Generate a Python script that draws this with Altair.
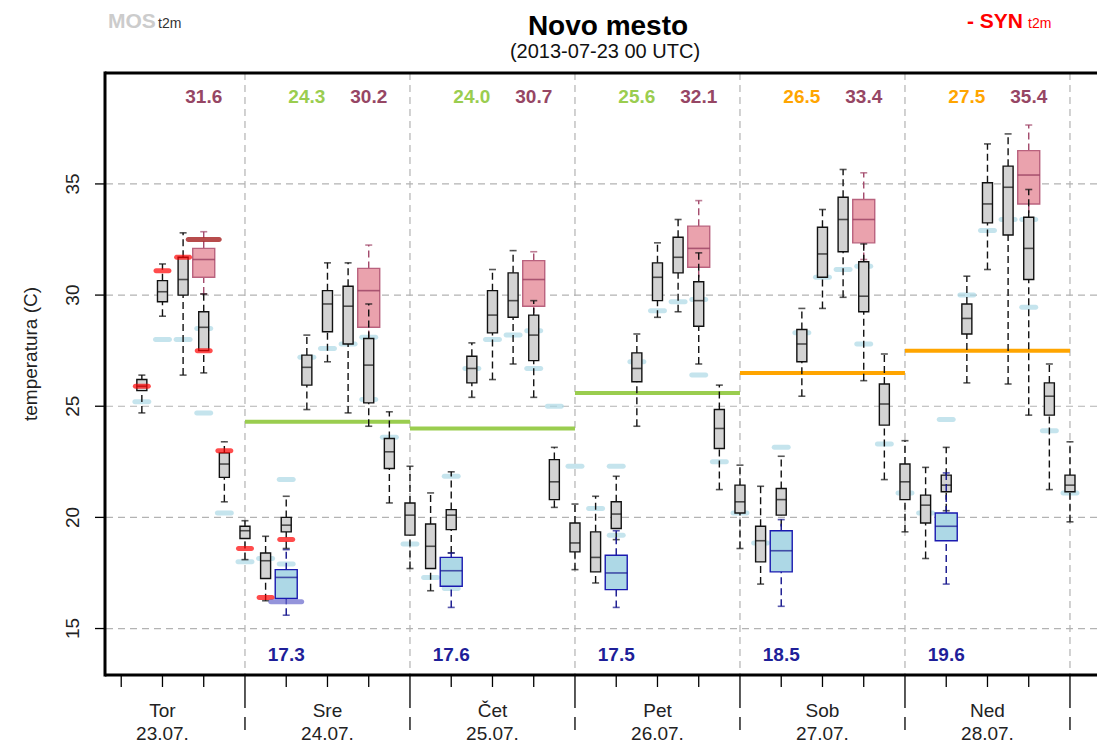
import altair as alt
import pandas as pd

# ---------------- data ----------------
gray_hours = [9, 12, 15, 18, 21, 24, 27, 30, 33, 36, 39, 42, 45, 48, 51, 54, 57, 60, 63, 66, 69, 72, 75, 78,
              81, 84, 87, 90, 93, 96, 99, 102, 105, 108, 111, 114, 117, 120, 123, 126, 129, 132, 135, 138, 141, 144]
gray_lo = [24.7, 29.05, 26.4, 26.5, 20.7, 18.1, 16.25, 18.6, 24.85, 27.0, 24.7, 24.1, 20.65, 17.7, 16.7, 18.4,
           25.4, 26.2, 26.9, 25.4, 20.45, 17.65, 17.05, 19.0, 24.1, 29.0, 29.25, 26.9, 21.25, 18.6, 17.0, 19.1,
           25.45, 29.4, 29.9, 26.15, 21.7, 19.35, 18.15, 20.3, 26.05, 31.15, 26.0, 24.6, 21.25, 19.8]
gray_q1 = [25.7, 29.7, 30.0, 27.5, 21.8, 19.05, 17.25, 19.35, 25.95, 28.35, 27.8, 25.15, 22.2, 19.2, 17.7, 19.45,
           26.05, 28.3, 29.0, 27.05, 20.8, 18.45, 17.55, 19.5, 26.1, 29.75, 31.0, 28.6, 23.1, 20.2, 18.0, 20.1,
           27.0, 30.8, 31.95, 29.25, 24.15, 20.8, 19.75, 21.15, 28.25, 33.25, 32.7, 30.7, 24.6, 21.15]
gray_med = [25.9, 30.15, 30.7, 28.55, 22.4, 19.4, 18.05, 19.65, 26.75, 29.6, 29.5, 26.85, 22.95, 20.1, 18.7, 20.1,
            26.7, 29.1, 29.75, 28.2, 21.6, 18.85, 18.2, 20.15, 26.7, 30.8, 31.7, 29.75, 24.0, 20.7, 18.95, 20.8,
            27.8, 31.85, 33.4, 29.95, 25.1, 21.6, 20.55, 21.45, 28.95, 34.1, 34.85, 32.1, 25.45, 21.45]
gray_q3 = [26.2, 30.65, 31.7, 29.25, 22.9, 19.6, 18.4, 20.0, 27.3, 30.2, 30.4, 28.05, 23.55, 20.65, 19.7, 20.35,
           27.25, 30.2, 31.0, 29.1, 22.6, 19.75, 19.35, 20.7, 27.4, 31.45, 32.6, 30.6, 24.85, 21.45, 19.6, 21.3,
           28.45, 33.05, 34.4, 31.5, 26.0, 22.4, 21.0, 21.9, 29.6, 35.05, 35.8, 33.5, 26.05, 21.9]
gray_hi = [26.4, 31.4, 32.8, 30.05, 23.4, 19.85, 19.15, 20.95, 28.2, 31.45, 31.45, 29.6, 24.75, 22.3, 21.1, 22.05,
           27.85, 31.15, 32.0, 29.75, 23.15, 20.6, 20.95, 21.85, 28.25, 32.35, 33.4, 31.9, 25.95, 22.35, 21.4, 22.75,
           29.4, 33.85, 35.65, 32.3, 27.35, 23.45, 22.25, 23.15, 30.85, 36.8, 37.25, 34.75, 26.9, 23.4]

tmax_hours = [18, 42, 66, 90, 114, 138]
tmax_lo = [30.05, 27.6, 28.7, 30.3, 31.6, 33.2]
tmax_q1 = [30.8, 28.55, 29.5, 31.25, 32.35, 34.1]
tmax_med = [31.6, 30.2, 30.7, 32.1, 33.4, 35.4]
tmax_q3 = [32.1, 31.2, 31.55, 33.1, 34.3, 36.5]
tmax_hi = [32.85, 32.25, 31.95, 34.25, 35.5, 37.65]

tmin_hours = [30, 54, 78, 102, 126]
tmin_lo = [15.6, 15.95, 15.95, 16.0, 17.0]
tmin_q1 = [16.35, 16.9, 16.75, 17.55, 18.95]
tmin_med = [17.3, 17.6, 17.5, 18.5, 19.6]
tmin_q3 = [17.65, 18.2, 18.3, 19.4, 20.2]
tmin_hi = [18.55, 18.4, 19.4, 19.9, 22.0]

mos_hours = [9, 12, 15, 18, 18, 21, 24, 27, 30, 30, 33, 36, 39, 42, 42, 45, 48, 51, 54, 54, 57, 60, 63, 66, 66,
             69, 72, 75, 78, 78, 81, 84, 87, 90, 90, 93, 96, 99, 102, 102, 105, 108, 111, 114, 114, 117, 120, 123,
             126, 126, 129, 132, 135, 138, 138, 141, 144]
mos_vals = [25.2, 28.0, 28.0, 28.5, 24.7, 20.2, 18.0, 18.15, 21.7, 17.9, 27.2, 27.6, 27.8, 28.1, 25.3, 23.6, 18.8,
            17.3, 21.85, 16.8, 26.7, 28.0, 28.2, 28.4, 26.7, 25.0, 22.3, 20.4, 22.3, 19.2, 27.0, 29.3, 29.7, 29.8,
            26.4, 22.5, 20.2, 18.85, 23.15, 18.4, 28.3, 30.8, 31.15, 31.3, 27.8, 23.3, 21.1, 20.2, 24.4, 20.1, 30.0,
            32.9, 33.4, 33.4, 29.45, 23.9, 21.1]

syn_hours = [9, 12, 15, 18, 21, 24, 27, 30]
syn_vals = [25.9, 31.1, 31.7, 27.5, 23.0, 18.6, 16.4, 19.0]
obs_tmax_hours = [18]
obs_tmax_vals = [32.5]
obs_tmin_hours = [30]
obs_tmin_vals = [16.2]

mean_start = [24, 48, 72, 96, 120]
mean_vals = [24.3, 24.0, 25.6, 26.5, 27.5]

grid_y = [15, 20, 25, 30, 35]
day_bounds = [24, 48, 72, 96, 120, 144]
tick_hours = [6, 12, 18, 24, 30, 36, 42, 48, 54, 60, 66, 72, 78, 84, 90, 96, 102, 108, 114, 120, 126, 132, 138, 144]
day_mid = [12, 36, 60, 84, 108, 132]
day_names = ["Tor", "Sre", "Čet", "Pet", "Sob", "Ned"]
day_dates = ["23.07.", "24.07.", "25.07.", "26.07.", "27.07.", "28.07."]

# ---------------- layout ----------------
W, H = 992, 602
X0, X1 = 3.64, 147.93
Y0, Y1 = 12.91, 39.99
PXH = W / (X1 - X0)
FONT = "Liberation Sans"

xs = alt.Scale(domain=[X0, X1], nice=False, zero=False)
ys = alt.Scale(domain=[Y0, Y1], nice=False, zero=False)


def X(f="h"):
    return alt.X(f"{f}:Q", scale=xs, axis=None)


def Y(f):
    return alt.Y(f"{f}:Q", scale=ys, axis=None)


def box_layers(df, box_px, fill, stroke, wcol, medcol):
    half = box_px / 2 / PXH
    base = alt.Chart(df)
    dash = [7, 4]
    w1 = base.mark_rule(color=wcol, strokeDash=dash, strokeWidth=1.4).encode(x=X(), y=Y("q3"), y2="hi")
    w2 = base.mark_rule(color=wcol, strokeDash=dash, strokeWidth=1.4).encode(x=X(), y=Y("lo"), y2="q1")
    c1 = base.mark_tick(orient="horizontal", size=7, thickness=1.6, color=wcol).encode(x=X(), y=Y("hi"))
    c2 = base.mark_tick(orient="horizontal", size=7, thickness=1.6, color=wcol).encode(x=X(), y=Y("lo"))
    box = base.transform_calculate(xa=f"datum.h - {half}", xb=f"datum.h + {half}").mark_rect(
        fill=fill, stroke=stroke, strokeWidth=1.4).encode(x=X("xa"), x2="xb", y=Y("q1"), y2="q3")
    med = base.mark_tick(orient="horizontal", size=box_px, thickness=1.6, color=medcol).encode(x=X(), y=Y("med"))
    return [w1, w2, c1, c2, box, med]


gray_df = pd.DataFrame({"h": gray_hours, "lo": gray_lo, "q1": gray_q1, "med": gray_med, "q3": gray_q3, "hi": gray_hi})
tmax_df = pd.DataFrame({"h": tmax_hours, "lo": tmax_lo, "q1": tmax_q1, "med": tmax_med, "q3": tmax_q3, "hi": tmax_hi})
tmin_df = pd.DataFrame({"h": tmin_hours, "lo": tmin_lo, "q1": tmin_q1, "med": tmin_med, "q3": tmin_q3, "hi": tmin_hi})
mos_df = pd.DataFrame({"h": mos_hours, "v": mos_vals})
syn_df = pd.DataFrame({"h": syn_hours, "v": syn_vals})
otx_df = pd.DataFrame({"h": obs_tmax_hours, "v": obs_tmax_vals})
otn_df = pd.DataFrame({"h": obs_tmin_hours, "v": obs_tmin_vals})
mean_df = pd.DataFrame({"start": mean_start, "mean": mean_vals})
grid_df = pd.DataFrame({"v": grid_y})
bound_df = pd.DataFrame({"h": day_bounds})
tick_df = pd.DataFrame({"h": tick_hours})
day_df = pd.DataFrame({"h": day_mid, "name": day_names, "date": day_dates})
one = pd.DataFrame({"k": [0]})

GRID = "#b3b3b3"
layers = []
layers.append(alt.Chart(grid_df).mark_rule(color=GRID, strokeDash=[7, 5], strokeWidth=1.2).encode(y=Y("v")))
layers.append(alt.Chart(bound_df).mark_rule(color=GRID, strokeDash=[7, 5], strokeWidth=1.2).encode(x=X()))

mean_color = alt.Color("mean:Q", scale=alt.Scale(type="threshold", domain=[26], range=["#9acd4f", "#ffa500"]),
                       legend=None)
layers.append(alt.Chart(mean_df).transform_calculate(end="datum.start + 24").mark_rule(
    strokeWidth=4).encode(x=X("start"), x2="end", y=Y("mean"), color=mean_color))

layers.append(alt.Chart(mos_df).mark_tick(orient="horizontal", size=19, thickness=5, cornerRadius=2.5,
                                          color="#add8e6").encode(x=X(), y=Y("v")))

layers += box_layers(tmax_df, 22, "#eaa2ad", "#b9627e", "#a3496b", "#8e3357")
layers += box_layers(gray_df, 10, "#d3d3d3", "#111111", "#111111", "#111111")
layers += box_layers(tmin_df, 22, "#add8e6", "#1a1ab0", "#12128c", "#12128c")

layers.append(alt.Chart(syn_df).mark_tick(orient="horizontal", size=18, thickness=5, cornerRadius=2.5,
                                          color="#ff0000").encode(x=X(), y=Y("v")))
layers.append(alt.Chart(otx_df).mark_tick(orient="horizontal", size=36, thickness=5, cornerRadius=2.5,
                                          color="#990000").encode(x=X(), y=Y("v")))
layers.append(alt.Chart(otn_df).mark_tick(orient="horizontal", size=36, thickness=5, cornerRadius=2.5,
                                          color="#6666cc").encode(x=X(), y=Y("v")))

# value labels
layers.append(alt.Chart(tmax_df).mark_text(font=FONT, fontSize=19, fontWeight="bold", color="#964664").encode(
    x=X(), y=alt.value(24), text=alt.Text("med:Q", format=".1f")))
layers.append(alt.Chart(mean_df).transform_calculate(h="datum.start + 9").mark_text(
    font=FONT, fontSize=19, fontWeight="bold").encode(x=X(), y=alt.value(24),
                                                      text=alt.Text("mean:Q", format=".1f"), color=mean_color))
layers.append(alt.Chart(tmin_df).mark_text(font=FONT, fontSize=19, fontWeight="bold", color="#1f1f99").encode(
    x=X(), y=alt.value(582), text=alt.Text("med:Q", format=".1f")))

# frame
layers.append(alt.Chart(one).mark_rule(color="black", strokeWidth=3).encode(
    x=alt.value(0), y=alt.value(-1.5), y2=alt.value(H + 1.5)))
layers.append(alt.Chart(one).mark_rule(color="black", strokeWidth=3).encode(
    x=alt.value(0), x2=alt.value(W), y=alt.value(0)))
layers.append(alt.Chart(one).mark_rule(color="black", strokeWidth=3).encode(
    x=alt.value(0), x2=alt.value(W), y=alt.value(H)))

# y axis
layers.append(alt.Chart(grid_df).mark_rule(color="black", strokeWidth=1.3).encode(
    x=alt.value(-10), x2=alt.value(0), y=Y("v")))
layers.append(alt.Chart(grid_df).mark_text(font=FONT, fontSize=19, angle=270, color="#222222").encode(
    x=alt.value(-32), y=Y("v"), text="v:Q"))
layers.append(alt.Chart(one).mark_text(font=FONT, fontSize=19, angle=270, color="#222222",
                                       text="temperatura (C)").encode(x=alt.value(-74), y=alt.value(281)))

# x axis
layers.append(alt.Chart(tick_df).transform_filter("datum.h % 24 != 0").mark_rule(
    color="black", strokeWidth=1.3).encode(x=X(), y=alt.value(H), y2=alt.value(H + 12)))
layers.append(alt.Chart(tick_df).transform_filter("datum.h % 24 == 0").mark_rule(
    color="black", strokeWidth=1.3, strokeDash=[33, 9, 13, 60]).encode(x=X(), y=alt.value(H), y2=alt.value(H + 56)))
layers.append(alt.Chart(day_df).mark_text(font=FONT, fontSize=19, color="#222222").encode(
    x=X(), y=alt.value(638), text="name:N"))
layers.append(alt.Chart(day_df).mark_text(font=FONT, fontSize=19, color="#222222").encode(
    x=X(), y=alt.value(661), text="date:N"))

# title, subtitle, legend
layers.append(alt.Chart(one).mark_text(font=FONT, fontSize=28, fontWeight="bold", color="black",
                                       text="Novo mesto").encode(x=alt.value(503), y=alt.value(-46)))
layers.append(alt.Chart(one).mark_text(font=FONT, fontSize=20, color="#111111",
                                       text="(2013-07-23 00 UTC)").encode(x=alt.value(500), y=alt.value(-21)))
layers.append(alt.Chart(one).mark_text(font=FONT, fontSize=21, fontWeight="bold", color="#cccccc", align="left",
                                       baseline="alphabetic", text="MOS").encode(x=alt.value(3), y=alt.value(-45)))
layers.append(alt.Chart(one).mark_text(font=FONT, fontSize=14, color="#333333", align="left",
                                       baseline="alphabetic", text="t2m").encode(x=alt.value(53), y=alt.value(-45)))
layers.append(alt.Chart(one).mark_text(font=FONT, fontSize=21, fontWeight="bold", color="#ff0000", align="left",
                                       baseline="alphabetic", text="- SYN").encode(x=alt.value(862), y=alt.value(-45)))
layers.append(alt.Chart(one).mark_text(font=FONT, fontSize=14, color="#ff0000", align="left",
                                       baseline="alphabetic", text="t2m").encode(x=alt.value(923), y=alt.value(-45)))

chart = alt.layer(*layers).properties(
    width=W, height=H,
    padding={"left": 97, "top": 65, "right": 0, "bottom": 74},
    autosize=alt.AutoSizeParams(type="none"),
).configure_view(stroke=None)

chart.save("out.html", embed_options={"renderer": "svg", "actions": False})
